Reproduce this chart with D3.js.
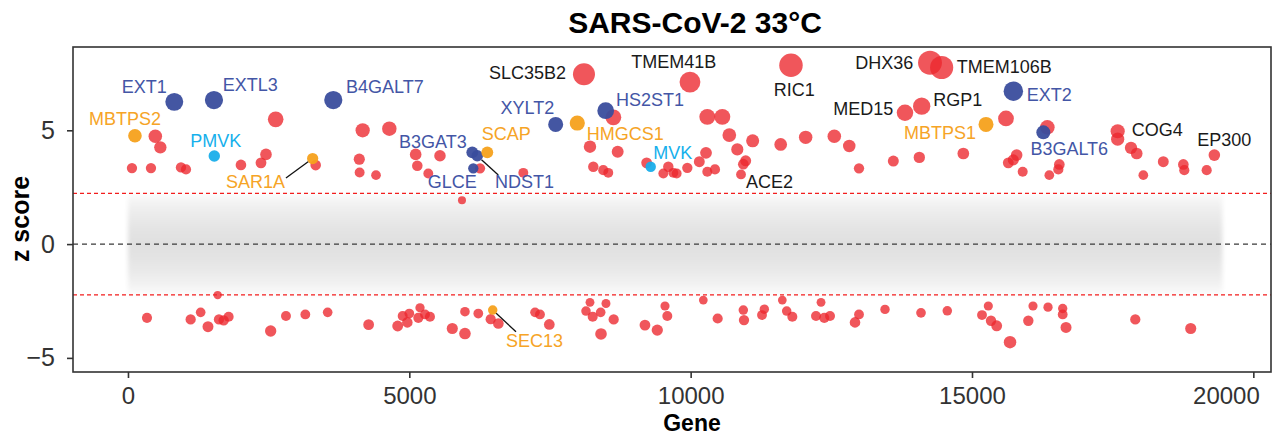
<!DOCTYPE html>
<html>
<head>
<meta charset="utf-8">
<script src="https://cdn.jsdelivr.net/npm/d3@7"></script>
<style>
  html, body { margin: 0; padding: 0; background: #fff; }
  svg { display: block; font-family: "Liberation Sans", Arial, Helvetica, sans-serif; }
</style>
</head>
<body>
<svg id="chart" width="1274" height="438"></svg>
<script>
// ---- data -------------------------------------------------------------
// Screen hits enriched above the threshold: [gene rank, z score]
const upHits = [
  [71,3.34],[409,3.34],[486,4.74],[575,4.25],[942,3.37],[1031,3.28],[2008,3.48],
  [2364,3.57],[2453,3.94],[2625,5.48],[3336,3.47],[4111,3.73],[4117,3.15],[4171,5.0],
  [4408,3.03],[4645,5.07],[5113,3.94],[5142,3.44],[5337,3.1],[5545,3.88],[5936,1.93],
  [6256,3.33],[7026,3.13],[8211,4.28],[8703,4.06],[8626,5.57],[8270,3.4],[8447,3.25],
  [8536,3.13],[9218,3.57],[9514,3.1],[9603,3.4],[9692,3.13],[9752,3.1],[9941,3.35],
  [10154,3.62],[10273,4.01],[10296,5.59],[10563,5.59],[10296,3.18],[10432,3.28],
  [10687,4.79],[10829,4.16],[10978,3.66],[10936,3.51],[11102,4.54],[11600,4.38],
  [12044,4.69],[12553,4.74],[12819,4.31],[12992,3.33],[13602,3.65],[14064,3.81],
  [14846,3.98],[15604,5.52],[16339,5.13],[15794,3.91],[15645,3.57],[15734,3.7],
  [15901,3.18],[16374,3.03],[16552,3.5],[16534,3.28],[17589,4.61],[17826,4.23],
  [17927,3.98],[18045,3.03],[18400,3.62],[18756,3.5],[18773,3.25],[19171,3.25]
];

// Screen hits depleted below the threshold: [gene rank, z score]
const downHits = [
  [1594,-2.24],[338,-3.24],[1114,-3.31],[1292,-3.0],[1422,-3.63],[1617,-3.31],[1701,-3.35],
  [1789,-3.19],[2536,-3.82],[2808,-3.16],[3152,-3.09],[3549,-3.0],[4277,-3.54],[4793,-3.6],
  [4882,-3.16],[5000,-3.05],[4965,-3.44],[5190,-2.8],[5160,-3.24],[5279,-3.09],[5367,-3.19],
  [5764,-3.71],[5989,-3.93],[5989,-2.97],[6226,-3.05],[6446,-3.3],[6582,-3.49],[7234,-3.0],
  [7322,-3.09],[7488,-3.53],[8211,-2.56],[8495,-2.61],[8140,-2.94],[8259,-3.19],[8401,-3.0],
  [8407,-3.95],[8632,-3.31],[9188,-3.56],[9407,-3.78],[9544,-2.72],[9585,-3.16],[10225,-2.46],
  [10480,-3.27],[10936,-2.9],[10948,-3.34],[11309,-2.86],[11268,-3.12],[11629,-2.46],
  [11707,-2.94],[11807,-3.19],[12317,-2.56],[12228,-3.16],[12375,-3.24],[12477,-3.16],
  [12921,-3.44],[12992,-3.09],[13454,-2.87],[14094,-3.02],[14561,-2.93],[15290,-2.72],
  [15178,-3.12],[15338,-3.37],[15439,-3.59],[15676,-4.31],[16001,-3.37],[16084,-2.72],
  [16351,-2.77],[16612,-2.83],[16612,-3.09],[16671,-3.66],[17902,-3.31],[18887,-3.71]
];

// Named genes: [name, gene rank, z score, pathway group]
const namedGenes = [
  ["SLC35B2", 8104, 7.46, "other"],
  ["TMEM41B", 9988, 7.12, "other"],
  ["RIC1", 11783, 7.86, "other"],
  ["ACE2", 10895, 3.06, "other"],
  ["MED15", 13809, 5.77, "other"],
  ["DHX36", 14254, 7.97, "other"],
  ["TMEM106B", 14461, 7.76, "other"],
  ["RGP1", 14106, 6.06, "other"],
  ["COG4", 17589, 4.96, "other"],
  ["EP300", 19307, 3.91, "other"],
  ["EXT1", 823, 6.25, "heparan"],
  ["EXTL3", 1528, 6.33, "heparan"],
  ["B4GALT7", 3649, 6.33, "heparan"],
  ["B3GAT3", 6119, 4.03, "heparan"],
  ["GLCE", 6137, 3.33, "heparan"],
  ["NDST1", 6208, 3.88, "heparan"],
  ["XYLT2", 7601, 5.26, "heparan"],
  ["HS2ST1", 8490, 5.86, "heparan"],
  ["EXT2", 15735, 6.72, "heparan"],
  ["B3GALT6", 16268, 4.91, "heparan"],
  ["MBTPS2", 124, 4.76, "srebp"],
  ["SAR1A", 3282, 3.76, "srebp"],
  ["SCAP", 6386, 4.03, "srebp"],
  ["HMGCS1", 7985, 5.32, "srebp"],
  ["MBTPS1", 15249, 5.26, "srebp"],
  ["SEC13", 6482, -2.9, "srebp"],
  ["PMVK", 1534, 3.87, "mevalonate"],
  ["MVK", 9290, 3.4, "mevalonate"]
];

// Axis ticks and reference levels
const xTicks = [0, 5000, 10000, 15000, 20000];
const yTicks = [-5, 0, 5];
const thresholds = [-2.23, 2.23];
// Extent of the non-significant gene cloud
const cloudGenes = [0, 19450];
const cloudZ = [-2.35, 2.35];

// ---- layout & style ---------------------------------------------------
const panel = { left: 73, right: 1271, top: 47, bottom: 372 };

const groupFill = {
  other: "#ec272d",
  heparan: "#3a4d9d",
  srebp: "#f5a11c",
  mevalonate: "#19aeea"
};
const groupText = {
  other: "#1a1a1a",
  heparan: "#4356a6",
  srebp: "#f6a426",
  mevalonate: "#16b0ec"
};

// label placement relative to the point centre: [anchor, dx, dy, leader end]
const labelPlace = {
  SLC35B2: ["end", -18, 4.7],
  TMEM41B: ["middle", -16.3, -13.7],
  RIC1: ["middle", 3.2, 30.7],
  ACE2: ["start", 5, 14],
  MED15: ["end", -11.7, 2.3],
  DHX36: ["end", -16.7, 6.6],
  TMEM106B: ["start", 15, 5.4],
  RGP1: ["start", 11.6, 0],
  COG4: ["start", 14, 4.7],
  EP300: ["middle", 9.9, -9],
  EXT1: ["end", -7.6, -8.4],
  EXTL3: ["start", 8.7, -9.3],
  B4GALT7: ["start", 12.7, -6.7],
  B3GAT3: ["end", -5.6, -4],
  GLCE: ["end", 3.4, 20],
  NDST1: ["start", 17.7, 32.6, [21, 19.3]],
  XYLT2: ["end", -1.4, -10.3],
  HS2ST1: ["start", 10.3, -5],
  EXT2: ["start", 13.4, 10],
  B3GALT6: ["middle", 25.9, 22.7],
  MBTPS2: ["middle", -10, -10.7],
  SAR1A: ["end", -27.7, 29.4, [-26.7, 19.4]],
  SCAP: ["start", -5.6, -12.3],
  HMGCS1: ["start", 9.4, 17],
  MBTPS1: ["end", -10, 15],
  SEC13: ["start", 13.3, 37.3, [23.3, 21.7]],
  PMVK: ["middle", 1.5, -9.3],
  MVK: ["start", 2.6, -7.4]
};

// ---- scales -----------------------------------------------------------
const x = d3.scaleLinear().domain([-977, 20314]).range([panel.left, panel.right]);
const y = d3.scaleLinear().domain([-5.62, 8.66]).range([panel.bottom, panel.top]);
const r = d3.scalePow().exponent(1.7).domain([2, 8]).range([4, 12]).clamp(true);

const svg = d3.select("#chart");
const defs = svg.append("defs");

// soft vertical fade for the background cloud
const grad = defs.append("linearGradient")
  .attr("id", "cloudFade")
  .attr("gradientUnits", "userSpaceOnUse")
  .attr("x1", 0).attr("x2", 0)
  .attr("y1", y(cloudZ[1])).attr("y2", y(cloudZ[0]));
[[0, "#ffffff"], [0.1, "#f4f4f4"], [0.22, "#ebebeb"], [0.38, "#e3e3e3"],
 [0.5, "#e0e0e0"], [0.62, "#e3e3e3"], [0.78, "#ebebeb"], [0.9, "#f4f4f4"], [1, "#ffffff"]]
  .forEach(([o, c]) => grad.append("stop").attr("offset", o).attr("stop-color", c));

defs.append("filter").attr("id", "soft")
  .attr("x", "-5%").attr("y", "-20%").attr("width", "110%").attr("height", "140%")
  .append("feGaussianBlur").attr("stdDeviation", 2);

defs.append("clipPath").attr("id", "panelClip")
  .append("rect")
  .attr("x", panel.left).attr("y", panel.top)
  .attr("width", panel.right - panel.left).attr("height", panel.bottom - panel.top);

// ---- title ------------------------------------------------------------
svg.append("text")
  .attr("x", 695).attr("y", 33)
  .attr("text-anchor", "middle")
  .attr("font-size", 30).attr("font-weight", "bold").attr("fill", "#000")
  .text("SARS-CoV-2 33°C");

const plot = svg.append("g").attr("clip-path", "url(#panelClip)");

// non-significant genes
plot.append("rect")
  .attr("x", x(cloudGenes[0])).attr("width", x(cloudGenes[1]) - x(cloudGenes[0]))
  .attr("y", y(cloudZ[1])).attr("height", y(cloudZ[0]) - y(cloudZ[1]))
  .attr("fill", "url(#cloudFade)")
  .attr("filter", "url(#soft)");

// reference lines
plot.selectAll("line.thr").data(thresholds).join("line")
  .attr("class", "thr")
  .attr("x1", panel.left).attr("x2", panel.right)
  .attr("y1", d => y(d)).attr("y2", d => y(d))
  .attr("stroke", "#f21d1d").attr("stroke-width", 1.1)
  .attr("stroke-dasharray", "4,3");
plot.append("line")
  .attr("x1", panel.left).attr("x2", panel.right)
  .attr("y1", y(0)).attr("y2", y(0))
  .attr("stroke", "#3a3a3a").attr("stroke-width", 1.2)
  .attr("stroke-dasharray", "5,4");

// hit points
const hitPoints = upHits.concat(downHits).map(([g, z]) => ({ gene: g, z, group: "other" }));
const named = namedGenes.map(([name, g, z, group]) => ({ name, gene: g, z, group }));
const reds = hitPoints.concat(named.filter(d => d.group === "other"));
const coloured = named.filter(d => d.group !== "other");

plot.selectAll("circle.hit").data(reds).join("circle")
  .attr("class", "hit")
  .attr("cx", d => x(d.gene)).attr("cy", d => y(d.z))
  .attr("r", d => r(Math.abs(d.z)))
  .attr("fill", groupFill.other).attr("fill-opacity", 0.78);

// leader lines
const leaders = named.filter(d => labelPlace[d.name][3]);
svg.selectAll("line.leader").data(leaders).join("line")
  .attr("class", "leader")
  .attr("x1", d => {
    const [ex, ey] = labelPlace[d.name][3];
    const len = Math.hypot(ex, ey);
    return x(d.gene) + ex / len * r(Math.abs(d.z));
  })
  .attr("y1", d => {
    const [ex, ey] = labelPlace[d.name][3];
    const len = Math.hypot(ex, ey);
    return y(d.z) + ey / len * r(Math.abs(d.z));
  })
  .attr("x2", d => x(d.gene) + labelPlace[d.name][3][0])
  .attr("y2", d => y(d.z) + labelPlace[d.name][3][1])
  .attr("stroke", "#111").attr("stroke-width", 1.3);

plot.selectAll("circle.named").data(coloured).join("circle")
  .attr("class", "named")
  .attr("cx", d => x(d.gene)).attr("cy", d => y(d.z))
  .attr("r", d => r(Math.abs(d.z)))
  .attr("fill", d => groupFill[d.group]).attr("fill-opacity", 0.95);

// gene labels
svg.selectAll("text.gene").data(named).join("text")
  .attr("class", "gene")
  .attr("x", d => x(d.gene) + labelPlace[d.name][1])
  .attr("y", d => y(d.z) + labelPlace[d.name][2])
  .attr("text-anchor", d => labelPlace[d.name][0])
  .attr("font-size", 18)
  .attr("fill", d => groupText[d.group])
  .text(d => d.name);

// ---- axes -------------------------------------------------------------
svg.append("rect")
  .attr("x", panel.left).attr("y", panel.top)
  .attr("width", panel.right - panel.left).attr("height", panel.bottom - panel.top)
  .attr("fill", "none").attr("stroke", "#333").attr("stroke-width", 1.6);

const xAxis = svg.append("g")
  .attr("transform", `translate(0,${panel.bottom})`)
  .call(d3.axisBottom(x).tickValues(xTicks).tickSize(6).tickFormat(d3.format("d")));
xAxis.select(".domain").remove();
xAxis.selectAll(".tick line").attr("stroke", "#333").attr("stroke-width", 1.6);
xAxis.selectAll(".tick text")
  .attr("y", 32).attr("dy", null)
  .attr("font-size", 24).attr("fill", "#333")
  .attr("font-family", "Liberation Sans, Arial, sans-serif");
// keep the last label inside the figure
xAxis.selectAll(".tick text").filter(d => d === 20000)
  .attr("text-anchor", "end").attr("dx", 6);

const yAxis = svg.append("g")
  .attr("transform", `translate(${panel.left},0)`)
  .call(d3.axisLeft(y).tickValues(yTicks).tickSize(6).tickPadding(12));
yAxis.select(".domain").remove();
yAxis.selectAll(".tick line").attr("stroke", "#333").attr("stroke-width", 1.6);
yAxis.selectAll(".tick text")
  .attr("font-size", 25).attr("fill", "#333")
  .attr("font-family", "Liberation Sans, Arial, sans-serif");

svg.append("text")
  .attr("x", 692).attr("y", 431)
  .attr("text-anchor", "middle")
  .attr("font-size", 23).attr("font-weight", "bold")
  .text("Gene");

svg.append("text")
  .attr("transform", "translate(29,219) rotate(-90)")
  .attr("text-anchor", "middle")
  .attr("font-size", 25).attr("font-weight", "bold")
  .text("z score");
</script>
</body>
</html>
